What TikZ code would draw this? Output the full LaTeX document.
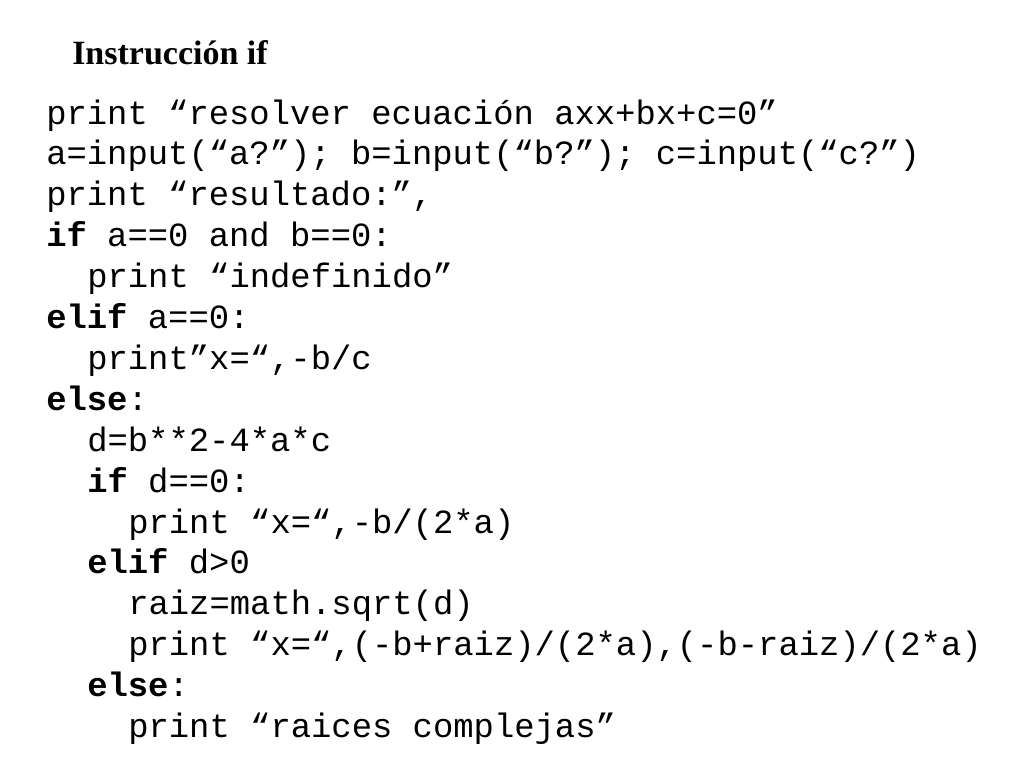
\documentclass[tikz,border=0pt]{standalone}
\usepackage{fontspec}
\setmainfont{Liberation Serif}
\setmonofont{Liberation Mono}
\begin{document}
\begin{tikzpicture}[x=0.75pt,y=-0.75pt,
  codeline/.style={anchor=base west,inner sep=0pt,font=\fontsize{25.4}{30}\ttfamily}]
\useasboundingbox[fill=white] (0,0) rectangle (1024,768);
\node[anchor=base west,inner sep=0pt,font=\fontsize{25.5}{30}\bfseries] (title) at (72,64) {Instrucción if};
\def\L#1#2#3{\node[codeline] (l#1) at (46+41*#2,124+40.9*#1) {#3};}
\L{0}{0}{print “resolver ecuación axx+bx+c=0”}
\L{1}{0}{a=input(“a?”); b=input(“b?”); c=input(“c?”)}
\L{2}{0}{print “resultado:”,}
\L{3}{0}{\textbf{if} a==0 and b==0:}
\L{4}{1}{print “indefinido”}
\L{5}{0}{\textbf{elif} a==0:}
\L{6}{1}{print”x=“,-b/c}
\L{7}{0}{\textbf{else}:}
\L{8}{1}{d=b**2-4*a*c}
\L{9}{1}{\textbf{if} d==0:}
\L{10}{2}{print “x=“,-b/(2*a)}
\L{11}{1}{\textbf{elif} d>0}
\L{12}{2}{raiz=math.sqrt(d)}
\L{13}{2}{print “x=“,(-b+raiz)/(2*a),(-b-raiz)/(2*a)}
\L{14}{1}{\textbf{else}:}
\L{15}{2}{print “raices complejas”}
\end{tikzpicture}
\end{document}
